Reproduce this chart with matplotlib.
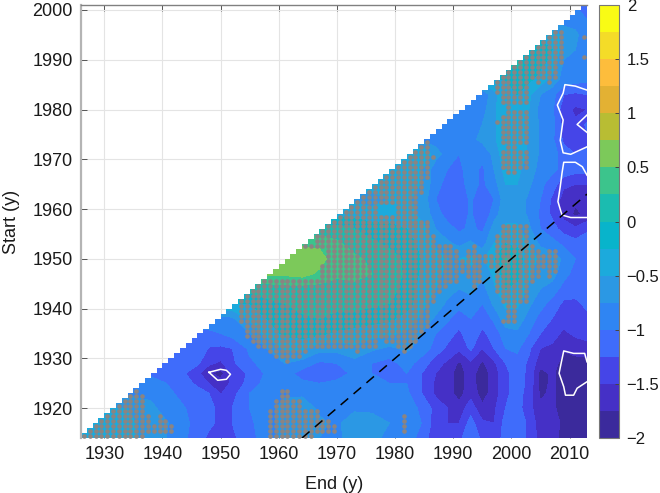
import numpy as np
import matplotlib
matplotlib.use('Agg')
import matplotlib.pyplot as plt
from matplotlib.colors import ListedColormap, BoundaryNorm
from matplotlib.patches import Polygon

plt.rcParams['font.family'] = ['Liberation Sans', 'DejaVu Sans']

# field: end year nodes, start year nodes
end_nodes = [1926, 1930, 1934, 1938, 1942, 1946, 1948, 1950, 1952, 1955, 1958, 1961, 1964, 1967,
             1970, 1973, 1976, 1979, 1982, 1985, 1987, 1989, 1991, 1993, 1995, 1997, 1999, 2001,
             2003, 2005, 2007, 2009, 2011, 2013]
start_nodes = [1914, 1917, 1920, 1923, 1925, 1927, 1929, 1932, 1935, 1938, 1941, 1944, 1947, 1950,
               1953, 1956, 1959, 1962, 1965, 1968, 1971, 1974, 1977, 1980, 1983, 1986, 1989, 1992,
               1995, 1998, 2001]
# each row holds the right hand part only, the missing left part is outside the triangle
rows = [
    [-0.35, -0.35, -0.4, -0.65, -0.8, -1.15, -1.3, -1.35, -1.3, -1.1, -0.85, -0.7, -0.7, -0.75, -0.8, -0.65, -0.7, -0.8, -0.8, -1.2, -1.35, -1.4, -1.3, -1.1, -1.3, -1.4, -1.15, -1.15, -1.3, -1.6, -1.65, -1.85, -1.9, -1.9],
    [-0.4, -0.45, -0.6, -0.8, -1.1, -1.2, -1.3, -1.25, -1.05, -0.85, -0.65, -0.6, -0.7, -0.8, -0.6, -0.65, -0.75, -0.75, -1.05, -1.4, -1.5, -1.5, -1.15, -1.45, -1.5, -1.15, -1.1, -1.3, -1.65, -1.65, -1.8, -1.9, -1.9],
    [-0.5, -0.7, -0.9, -1.1, -1.2, -1.3, -1.25, -1.0, -0.85, -0.65, -0.6, -0.8, -0.85, -0.8, -0.8, -0.85, -0.85, -1.1, -1.35, -1.5, -1.65, -1.35, -1.7, -1.55, -1.25, -1.15, -1.4, -1.7, -1.7, -1.85, -1.9, -1.9],
    [-0.8, -1.0, -1.15, -1.25, -1.52, -1.35, -1.0, -0.85, -0.8, -0.8, -0.9, -0.9, -0.85, -0.85, -0.9, -0.95, -1.3, -1.55, -1.65, -1.85, -1.6, -1.85, -1.65, -1.3, -1.15, -1.35, -1.8, -1.7, -1.9, -1.9, -1.9],
    [-0.9, -1.05, -1.3, -1.5, -1.65, -1.45, -1.15, -0.9, -0.85, -0.95, -1.0, -0.95, -0.9, -0.95, -1.0, -1.0, -1.3, -1.55, -1.65, -1.85, -1.65, -1.88, -1.65, -1.3, -1.15, -1.3, -1.85, -1.7, -1.9, -1.9, -1.9],
    [-1.05, -1.45, -1.7, -1.85, -1.45, -1.2, -0.95, -0.9, -1.1, -1.0, -1.1, -0.95, -1.0, -1.1, -1.0, -1.3, -1.5, -1.65, -1.85, -1.65, -1.88, -1.65, -1.3, -1.15, -1.3, -1.85, -1.7, -1.9, -1.9, -1.9],
    [-1.0, -1.2, -1.45, -1.55, -1.3, -1.05, -0.9, -0.75, -0.85, -1.05, -1.0, -0.85, -1.0, -1.1, -0.9, -1.15, -1.4, -1.55, -1.8, -1.55, -1.8, -1.55, -1.25, -1.1, -1.3, -1.65, -1.65, -1.85, -1.85, -1.85],
    [-1.05, -1.27, -1.3, -1.25, -0.95, -0.75, -0.45, -0.45, -0.65, -0.65, -0.55, -0.7, -0.8, -0.7, -0.9, -1.1, -1.3, -1.45, -1.2, -1.5, -1.25, -1.0, -0.95, -1.2, -1.5, -1.55, -1.72, -1.65, -1.6],
    [-1.05, -1.0, -0.9, -0.75, -0.4, -0.2, -0.15, -0.2, -0.3, -0.35, -0.4, -0.45, -0.55, -0.8, -1.0, -1.15, -1.3, -1.1, -1.3, -1.15, -0.85, -0.8, -1.0, -1.25, -1.4, -1.55, -1.45, -1.4],
    [-0.85, -0.8, -0.45, -0.25, -0.1, -0.05, 0.0, -0.05, -0.1, -0.15, -0.2, -0.35, -0.6, -0.8, -0.95, -1.15, -1.0, -1.15, -0.95, -0.6, -0.6, -0.85, -1.1, -1.25, -1.4, -1.4, -1.3],
    [-0.25, -0.05, 0.0, 0.1, 0.05, 0.05, 0.1, 0.05, 0.0, -0.15, -0.45, -0.6, -0.8, -0.9, -0.9, -1.0, -0.7, -0.45, -0.45, -0.7, -0.9, -1.1, -1.3, -1.3, -1.2],
    [0.1, 0.15, 0.15, 0.15, 0.15, 0.2, 0.15, 0.1, -0.1, -0.4, -0.5, -0.65, -0.75, -0.65, -0.85, -0.55, -0.25, -0.3, -0.55, -0.75, -0.85, -1.1, -1.15, -1.1],
    [0.55, 0.6, 0.45, 0.3, 0.3, 0.25, 0.15, -0.05, -0.35, -0.45, -0.55, -0.65, -0.55, -0.7, -0.45, -0.1, -0.2, -0.45, -0.65, -0.65, -0.9, -1.1, -1.0],
    [0.7, 0.6, 0.35, 0.3, 0.2, 0.1, -0.05, -0.3, -0.4, -0.5, -0.5, -0.45, -0.55, -0.3, 0.05, -0.1, -0.4, -0.55, -0.6, -0.8, -1.0, -1.0],
    [0.45, 0.3, 0.15, 0.05, -0.05, -0.15, -0.35, -0.55, -0.7, -0.8, -0.7, -0.85, -0.5, -0.25, -0.3, -0.5, -0.8, -0.9, -1.05, -1.15, -1.1],
    [0.1, 0.0, -0.1, -0.15, -0.25, -0.45, -0.75, -0.9, -1.05, -0.95, -1.05, -0.65, -0.45, -0.45, -0.7, -1.0, -1.15, -1.35, -1.45, -1.3],
    [-0.35, -0.45, -0.4, -0.4, -0.6, -0.9, -1.1, -1.2, -0.95, -1.27, -0.85, -0.6, -0.6, -0.8, -1.05, -1.3, -1.6, -1.8, -1.7],
    [-0.55, -0.5, -0.45, -0.65, -1.0, -1.15, -1.2, -0.95, -1.2, -1.0, -0.6, -0.6, -0.8, -1.0, -1.3, -1.6, -1.7, -1.6],
    [-0.45, -0.35, -0.55, -0.95, -1.05, -1.1, -0.9, -1.05, -0.85, -0.5, -0.5, -0.7, -0.95, -1.1, -1.45, -1.5, -1.5],
    [-0.3, -0.55, -0.9, -1.0, -1.05, -0.9, -1.05, -0.75, -0.4, -0.45, -0.6, -0.85, -0.95, -1.05, -1.15, -1.15],
    [-0.3, -0.65, -0.85, -1.0, -0.85, -0.9, -0.7, -0.3, -0.35, -0.55, -0.8, -0.85, -1.15, -1.25, -1.2],
    [-0.85, -0.85, -0.95, -0.8, -0.7, -0.55, -0.3, -0.3, -0.55, -0.8, -0.95, -1.3, -1.4, -1.3],
    [-0.9, -1.0, -0.85, -0.75, -0.55, -0.3, -0.25, -0.5, -0.8, -0.9, -1.35, -1.45, -1.2],
    [-0.95, -0.85, -0.55, -0.3, -0.25, -0.5, -0.85, -0.95, -1.4, -1.55, -1.5],
    [-0.95, -0.6, -0.3, -0.25, -0.45, -0.75, -0.9, -1.25, -1.3, -1.25],
    [-0.25, -0.15, -0.2, -0.35, -0.6, -0.85, -0.9, -0.95],
    [0.05, -0.05, -0.2, -0.35, -0.8, -0.85, -0.85],
    [-0.1, -0.25, -0.65, -0.75, -0.85],
    [-0.35, -0.6, -0.7, -0.9],
    [-0.85, -1.0],
    [-1.0],
]

# significance dots: start year, then (first end, last end) runs
dot_rows = [
    (1914, [(1926, 1936), (1958, 1965)]),
    (1915, [(1927, 1941), (1958, 1969), (1981, 1981)]),
    (1916, [(1928, 1941), (1958, 1969), (1981, 1981)]),
    (1917, [(1929, 1937), (1939, 1940), (1958, 1968), (1981, 1981)]),
    (1918, [(1930, 1937), (1939, 1939), (1958, 1966), (1981, 1981)]),
    (1919, [(1931, 1936), (1958, 1966)]),
    (1920, [(1932, 1936), (1959, 1963)]),
    (1921, [(1933, 1936), (1959, 1963)]),
    (1922, [(1934, 1936), (1960, 1961)]),
    (1923, [(1935, 1935), (1960, 1961)]),
    (1929, [(1961, 1961)]),
    (1930, [(1959, 1963)]),
    (1931, [(1958, 1964), (1973, 1973), (1981, 1981)]),
    (1932, [(1956, 1976), (1980, 1982)]),
    (1933, [(1955, 1976), (1978, 1983)]),
    (1934, [(1954, 1983)]),
    (1935, [(1954, 1984)]),
    (1936, [(1954, 1985)]),
    (1937, [(1953, 1985), (1998, 2000)]),
    (1938, [(1953, 1985), (1999, 2000)]),
    (1939, [(1953, 1985), (1999, 2000)]),
    (1940, [(1953, 1985), (1999, 2000)]),
    (1941, [(1953, 1986), (1998, 2002)]),
    (1942, [(1954, 1986), (1998, 2002)]),
    (1943, [(1955, 1987), (1997, 2002)]),
    (1944, [(1956, 1988), (1993, 1993), (1997, 2002)]),
    (1945, [(1957, 1990), (1993, 1994), (1997, 2003)]),
    (1946, [(1967, 1990), (1992, 1994), (1997, 2004), (2006, 2006)]),
    (1947, [(1967, 1994), (1997, 2004), (2006, 2007)]),
    (1948, [(1967, 1994), (1996, 2007)]),
    (1949, [(1968, 2007)]),
    (1950, [(1968, 1990), (1992, 2007)]),
    (1951, [(1968, 1990), (1992, 1993), (1997, 2004), (2006, 2007)]),
    (1952, [(1964, 1989), (1993, 1993), (1997, 2003)]),
    (1953, [(1966, 1986), (1997, 2002)]),
    (1954, [(1966, 1986), (1997, 2002)]),
    (1955, [(1967, 1985), (1998, 2002)]),
    (1956, [(1968, 1985), (1998, 2002)]),
    (1957, [(1969, 1985)]),
    (1958, [(1970, 1983)]),
    (1959, [(1971, 1976), (1980, 1983)]),
    (1960, [(1972, 1976), (1980, 1983)]),
    (1961, [(1973, 1983)]),
    (1962, [(1974, 1983)]),
    (1963, [(1975, 1984)]),
    (1964, [(1976, 1984)]),
    (1965, [(1977, 1984)]),
    (1966, [(1978, 1985)]),
    (1967, [(1979, 1985), (1999, 2000)]),
    (1968, [(1980, 1985), (1998, 2002)]),
    (1969, [(1981, 1985), (1998, 2002)]),
    (1970, [(1982, 1986), (1998, 2002)]),
    (1971, [(1983, 1985), (1998, 2002)]),
    (1972, [(1984, 1985), (1999, 2000)]),
    (1973, [(1985, 1985), (1998, 2002)]),
    (1974, [(1998, 2002)]),
    (1975, [(1998, 2002)]),
    (1976, [(1998, 2002)]),
    (1977, [(1997, 2002)]),
    (1978, [(1998, 2002)]),
    (1979, [(1999, 2002)]),
    (1980, [(1999, 1999)]),
    (1981, [(1998, 2002)]),
    (1982, [(1998, 2002)]),
    (1983, [(1997, 2002)]),
    (1984, [(1997, 2002)]),
    (1985, [(1997, 2002), (2004, 2004), (2006, 2006)]),
    (1986, [(1998, 2007)]),
    (1987, [(1999, 2007)]),
    (1988, [(2000, 2007)]),
    (1989, [(2001, 2008)]),
    (1990, [(2002, 2008), (2012, 2012)]),
    (1991, [(2003, 2008)]),
    (1992, [(2004, 2008)]),
    (1993, [(2005, 2008)]),
    (1994, [(2006, 2008), (2012, 2012)]),
    (1995, [(2007, 2008)]),
]

# white outlines
loop_a_end = [1948, 1950, 1951, 1951.7, 1951, 1949.5, 1948]
loop_a_start = [1927.2, 1927.8, 1927.6, 1926.8, 1925.8, 1925.6, 1927.2]
loop_b_end = [2013, 2011, 2009.2, 2008.9, 2007.9, 2008.9, 2008.4, 2008.9, 2010.2, 2013]
loop_b_start = [1983.9, 1984.7, 1985, 1983.3, 1980.9, 1977.9, 1973.8, 1971.3, 1971, 1972.5]
loop_b2_end = [2013, 2011.3, 2013]
loop_b2_start = [1978.9, 1977, 1975.4]
loop_c_end = [2013, 2012.2, 2011, 2009, 2008.7, 2008.4, 2008, 2008.7, 2010.2, 2013]
loop_c_start = [1966.8, 1968.5, 1969.4, 1969.4, 1967.2, 1964.5, 1961.5, 1958.8, 1958.3, 1958.3]
loop_d_end = [2013, 2012.6, 2010.7, 2009, 2008.6, 2008.2, 2009, 2009.3, 2010.7, 2011.3, 2013]
loop_d_start = [1929.3, 1931, 1931, 1931.5, 1929.3, 1927, 1924.3, 1922.6, 1922.6, 1924, 1925.3]

dash_end = [1964, 2013]
dash_start = [1914, 1963]

level_colors = ['#3b2a9c', '#4530c6', '#4545e8', '#3f6cfb', '#2f85f3', '#2b98e4', '#1caadc', '#08b4cb',
                '#1bbcb0', '#3cc48c', '#7cc95a', '#b8bd33', '#e3b133', '#fdbd3c', '#f4dc28', '#f9fb15']
levels = np.arange(-2, 2.01, 0.25)
x_ticks = [1930, 1940, 1950, 1960, 1970, 1980, 1990, 2000, 2010]
y_ticks = [1920, 1930, 1940, 1950, 1960, 1970, 1980, 1990, 2000]
cbar_ticks = [-2, -1.5, -1, -0.5, 0, 0.5, 1, 1.5, 2]
cbar_labels = ['\u22122', '\u22121.5', '\u22121', '\u22120.5', '0', '0.5', '1', '1.5', '2']

field = np.array([[r[0]] * (len(end_nodes) - len(r)) + r for r in rows])

W, H = 660, 493
fig = plt.figure(figsize=(W / 100, H / 100), dpi=100)
ax = fig.add_axes([81 / W, (H - 438) / H, 506 / W, 433 / H])
cmap = ListedColormap(level_colors)
norm = BoundaryNorm(levels, cmap.N)

cs = ax.contourf(end_nodes, start_nodes, field, levels=levels, cmap=cmap, norm=norm, zorder=2)

# staircase edge of the triangle
edge = [(1926, 1914)]
for e in range(1926, 2013):
    top = e - 12 + 1
    edge += [(e, top), (e + 1, top)]
edge.append((2013, 1914))
clip = Polygon(edge, closed=True, transform=ax.transData, fc='none', ec='none')
ax.add_patch(clip)
cs.set_clip_path(clip)

dot_x, dot_y = [], []
for s, runs in dot_rows:
    for e0, e1 in runs:
        for e in range(e0, e1 + 1):
            dot_x.append(e + 0.5)
            dot_y.append(s + 0.5)
ax.scatter(dot_x, dot_y, s=11, color='#8b8482', linewidths=0, zorder=3)

for lx, ly in [(loop_a_end, loop_a_start), (loop_b_end, loop_b_start), (loop_b2_end, loop_b2_start),
               (loop_c_end, loop_c_start), (loop_d_end, loop_d_start)]:
    ax.plot(lx, ly, color='white', lw=1.1, zorder=4)
ax.plot(dash_end, dash_start, color='black', lw=1.1, linestyle=(0, (6.5, 4.6)), zorder=5)

ax.set_xlim(1926, 2013)
ax.set_ylim(1914, 2001)
ax.set_xticks(x_ticks)
ax.set_yticks(y_ticks)
ax.grid(True, color='#e4e4e4', lw=0.8)
ax.set_axisbelow(True)
ax.tick_params(direction='in', length=4, width=0.7, color='#555555', labelsize=13, top=True,
               labelcolor='#1a1a1a', pad=6)
ax.spines['left'].set_color('#b4b4b4')
ax.spines['left'].set_linewidth(1.6)
ax.spines['top'].set_color('#808080')
ax.spines['top'].set_linewidth(1.0)
ax.spines['right'].set_visible(False)
ax.spines['bottom'].set_visible(False)
ax.set_xlabel('End (y)', fontsize=13, color='#1a1a1a', labelpad=9)
ax.set_ylabel('Start (y)', fontsize=13, color='#1a1a1a', labelpad=9)

cax = fig.add_axes([599 / W, (H - 438) / H, 20 / W, 433 / H])
cb = fig.colorbar(cs, cax=cax, ticks=cbar_ticks)
cb.ax.set_yticklabels(cbar_labels)
cb.ax.tick_params(direction='in', length=3, width=0.7, color='#444444', labelsize=12,
                  labelcolor='#1a1a1a', pad=5.5)
cb.ax.minorticks_off()
cb.outline.set_edgecolor('#777777')
cb.outline.set_linewidth(0.8)

fig.savefig('out.png', dpi=100)
